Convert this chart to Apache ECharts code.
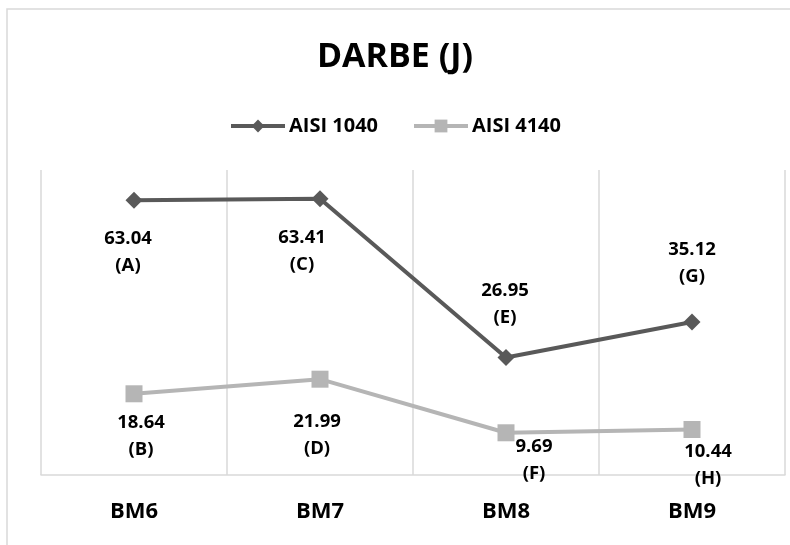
<!DOCTYPE html>
<html>
<head>
<meta charset="utf-8">
<script src="https://cdn.jsdelivr.net/npm/echarts@6/dist/echarts.min.js"></script>
<style>
  html, body { margin: 0; padding: 0; background: #fff; }
  #chart { width: 790px; height: 545px; }
</style>
</head>
<body>
<div id="chart"></div>
<script>
// Impact energy (J) per specimen group
const categories = ['BM6', 'BM7', 'BM8', 'BM9'];
const seriesNames = ['AISI 1040', 'AISI 4140'];
const aisi1040 = [63.04, 63.41, 26.95, 35.12];
const aisi4140 = [18.64, 21.99, 9.69, 10.44];
const tags1040 = ['A', 'C', 'E', 'G'];
const tags4140 = ['B', 'D', 'F', 'H'];

// label nudges (px) relative to each marker centre
const offsets1040 = [[-6, 52], [-18, 53], [-1, -53], [0, -59]];
const offsets4140 = [[7, 42], [-3, 56], [28, 27], [16, 36]];

const FONT = '"Open Sans", "DejaVu Sans", sans-serif';

function withLabels(values, tags, offsets) {
  return values.map((v, i) => ({
    value: v,
    label: {
      show: true,
      position: 'inside',
      offset: offsets[i],
      align: 'center',
      verticalAlign: 'middle',
      formatter: v.toFixed(2) + '\n(' + tags[i] + ')',
      fontFamily: FONT,
      fontWeight: 'bold',
      fontSize: 18.5,
      lineHeight: 27,
      color: '#000'
    }
  }));
}

const chart = echarts.init(document.getElementById('chart'), null, { renderer: 'canvas' });

chart.setOption({
  animation: false,
  backgroundColor: '#fff',
  graphic: [{
    type: 'rect',
    shape: { x: 7, y: 9, width: 820, height: 600 },
    style: { fill: 'none', stroke: '#d9d9d9', lineWidth: 1.5 },
    silent: true,
    z: -1
  }],
  title: {
    text: 'DARBE (J)',
    left: 'center',
    top: 35,
    textStyle: { fontFamily: FONT, fontWeight: 'bold', fontSize: 34, color: '#000' }
  },
  legend: {
    top: 111,
    left: 'center',
    itemWidth: 54,
    itemHeight: 16,
    itemGap: 34,
    lineStyle: { width: 4 },
    textStyle: { fontFamily: FONT, fontWeight: 'bold', fontSize: 20, color: '#000', padding: [0, 0, 0, -1] },
    data: seriesNames
  },
  grid: { left: 41, right: 5, top: 170, bottom: 70, containLabel: false },
  xAxis: {
    type: 'category',
    data: categories,
    boundaryGap: true,
    axisLine: { show: true, lineStyle: { color: '#d9d9d9', width: 1.5 } },
    axisTick: { show: false },
    splitLine: { show: true, interval: 0, lineStyle: { color: '#d9d9d9', width: 1.5 } },
    axisLabel: {
      margin: 26,
      fontFamily: FONT,
      fontWeight: 'bold',
      fontSize: 22,
      color: '#000'
    }
  },
  yAxis: {
    type: 'value',
    min: 0,
    max: 70,
    interval: 10,
    show: false,
    splitLine: { show: false }
  },
  series: [
    {
      name: seriesNames[0],
      type: 'line',
      data: withLabels(aisi1040, tags1040, offsets1040),
      symbol: 'diamond',
      symbolSize: 17,
      itemStyle: { color: '#595959' },
      lineStyle: { color: '#595959', width: 4 },
      z: 3
    },
    {
      name: seriesNames[1],
      type: 'line',
      data: withLabels(aisi4140, tags4140, offsets4140),
      symbol: 'rect',
      symbolSize: 17,
      itemStyle: { color: '#b5b5b5' },
      lineStyle: { color: '#b5b5b5', width: 4 },
      z: 2
    }
  ]
});
</script>
</body>
</html>
